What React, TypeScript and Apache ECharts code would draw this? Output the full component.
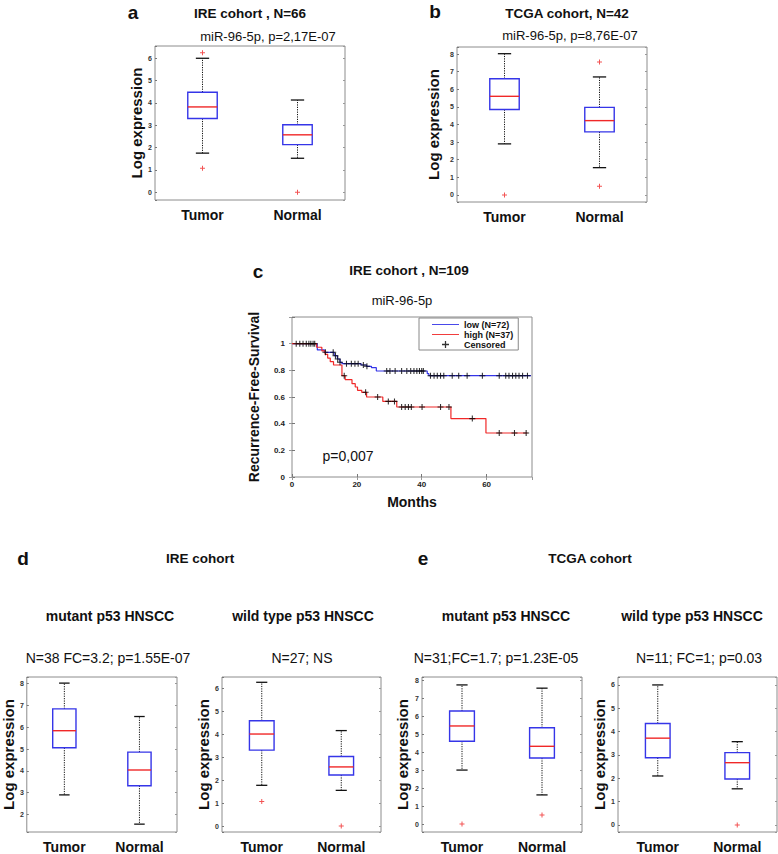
import React, { useEffect, useRef } from 'react';
import * as echarts from 'echarts';

const FONT = '"Liberation Sans", Arial, Helvetica, sans-serif';

const BOX_CATEGORIES = ['Tumor', 'Normal'];

// box values: [low whisker, Q1, median, Q3, high whisker]
const aTumor = [1.75, 3.3, 3.82, 4.48, 6.0];
const aNormal = [1.52, 2.13, 2.57, 3.02, 4.13];
const aOutTumor = [6.25, 1.07];
const aOutNormal = [0];

const bTumor = [2.9, 4.85, 5.6, 6.6, 8.02];
const bNormal = [1.55, 3.58, 4.22, 4.97, 6.7];
const bOutTumor = [0];
const bOutNormal = [7.55, 0.5];

const dMutTumor = [2.9, 5.06, 5.84, 6.84, 8.02];
const dMutNormal = [1.56, 3.32, 4.04, 4.86, 6.49];
const dMutOutTumor: number[] = [];
const dMutOutNormal: number[] = [];

const dWtTumor = [1.77, 3.3, 4.0, 4.58, 6.25];
const dWtNormal = [1.55, 2.22, 2.57, 3.02, 4.15];
const dWtOutTumor = [1.07];
const dWtOutNormal = [0];

const eMutTumor = [3.0, 4.6, 5.45, 6.28, 7.73];
const eMutNormal = [1.62, 3.67, 4.32, 5.35, 7.55];
const eMutOutTumor = [0];
const eMutOutNormal = [0.5];

const eWtTumor = [2.1, 2.88, 3.72, 4.35, 6.0];
const eWtNormal = [1.55, 1.97, 2.67, 3.1, 3.57];
const eWtOutTumor: number[] = [];
const eWtOutNormal = [0];

// Kaplan-Meier: [month, survival after step]
const lowSteps = [
  [0, 1], [7.8, 0.953], [10, 0.935], [13, 0.91], [14, 0.885], [14.8, 0.86], [15.4, 0.85],
  [21.3, 0.84], [23, 0.83], [24.5, 0.82], [26, 0.795], [41.7, 0.775], [42.2, 0.76], [73.7, 0.76],
];
const highSteps = [
  [0, 1], [7.6, 0.973], [9.2, 0.946], [10.2, 0.92], [11, 0.892], [11.8, 0.865], [12.8, 0.84],
  [15.4, 0.76], [16.4, 0.73], [18.5, 0.70], [19.5, 0.675], [20.2, 0.65], [21.5, 0.635],
  [23, 0.60], [28, 0.567], [32.3, 0.525], [49, 0.438], [59.8, 0.33], [72.6, 0.33],
];
const lowCensored = [
  4.4, 5.2, 5.8, 6.5, 7.0, 10.3, 12.7, 13.4, 14.1, 14.8, 16.8, 18.3, 19.4, 20.4, 22.0, 23.1,
  29.2, 30.2, 31.8, 33.8, 35.4, 36.6, 37.6, 38.5, 39.3, 40, 40.5, 42.7, 43.8, 44.8, 45.8, 46.8,
  49.4, 51.4, 54, 58.7, 63.9, 65.9, 66.9, 68, 69, 70, 71.1, 72.6,
];
const highCensored = [1.3, 2.4, 3.4, 16.1, 22.7, 26.4, 29.7, 31.6, 33.8, 34.9, 35.9, 36.8, 40.1, 45.8, 48.4, 55.6, 63.9, 68.6, 72.2];

const Y_TICK_FORMAT = (v: number) => {
  const r = Math.round(v * 1000) / 1000;
  return Number.isInteger(r) ? String(r) : '';
};

const PLUS_THICK = 'path://M4,0H6V4H10V6H6V10H4V6H0V4H4Z';
const PLUS_THIN = 'path://M4.1,0H5.9V4.1H10V5.9H5.9V10H4.1V5.9H0V4.1H4.1Z';
const LINE_ICON = 'path://M0,4.5H30V5.5H0Z';

const BLUE = '#3535e8';
const RED = '#f02828';
const FRAME = '#8c8c8c';

function survivalAt(steps: number[][], t: number) {
  let s = steps[0][1];
  for (const p of steps) {
    if (p[0] <= t) s = p[1];
  }
  return s;
}

const renderBox = (_params: any, api: any) => {
  const c = api.value(0);
  const low = api.coord([c, api.value(1)]);
  const q1 = api.coord([c, api.value(2)]);
  const med = api.coord([c, api.value(3)]);
  const q3 = api.coord([c, api.value(4)]);
  const high = api.coord([c, api.value(5)]);
  const band = api.size([1, 0])[0];
  const hw = band * 0.155;
  const cw = band * 0.07;
  const x = low[0];
  const dotted = { stroke: '#111', lineWidth: 1, lineDash: [1.2, 1.2] };
  const cap = { stroke: '#111', lineWidth: 1.3 };
  return {
    type: 'group',
    children: [
      { type: 'line', shape: { x1: x, y1: q3[1], x2: x, y2: high[1] }, style: dotted },
      { type: 'line', shape: { x1: x, y1: q1[1], x2: x, y2: low[1] }, style: dotted },
      { type: 'line', shape: { x1: x - cw, y1: high[1], x2: x + cw, y2: high[1] }, style: cap },
      { type: 'line', shape: { x1: x - cw, y1: low[1], x2: x + cw, y2: low[1] }, style: cap },
      {
        type: 'rect',
        shape: { x: x - hw, y: q3[1], width: 2 * hw, height: q1[1] - q3[1] },
        style: { fill: 'none', stroke: BLUE, lineWidth: 1.4 },
      },
      { type: 'line', shape: { x1: x - hw, y1: med[1], x2: x + hw, y2: med[1] }, style: { stroke: RED, lineWidth: 1.4 } },
    ],
  };
};

const BOX_PANELS = [
  { tumor: aTumor, normal: aNormal, outT: aOutTumor, outN: aOutNormal, left: 155, top: 46, width: 190, height: 154, min: -0.35, max: 6.55, gap: 10 },
  { tumor: bTumor, normal: bNormal, outT: bOutTumor, outN: bOutNormal, left: 457, top: 47, width: 190, height: 155, min: -0.4, max: 8.4, gap: 16 },
  { tumor: dMutTumor, normal: dMutNormal, outT: dMutOutTumor, outN: dMutOutNormal, left: 26, top: 677, width: 151, height: 156, min: 1.2, max: 8.3, gap: 8 },
  { tumor: dWtTumor, normal: dWtNormal, outT: dWtOutTumor, outN: dWtOutNormal, left: 222, top: 677, width: 159, height: 155, min: -0.26, max: 6.48, gap: 7 },
  { tumor: eMutTumor, normal: eMutNormal, outT: eMutOutTumor, outN: eMutOutNormal, left: 422, top: 677, width: 160, height: 155, min: -0.44, max: 8.17, gap: 12 },
  { tumor: eWtTumor, normal: eWtNormal, outT: eWtOutTumor, outN: eWtOutNormal, left: 618, top: 677, width: 159, height: 156, min: -0.3, max: 6.34, gap: 8 },
];

type T = { text: string; x: number; y: number; size: number; bold?: boolean };
const TEXTS: T[] = [
  { text: 'a', x: 133, y: 12, size: 19, bold: true },
  { text: 'IRE cohort , N=66', x: 250, y: 13, size: 13.5, bold: true },
  { text: 'miR-96-5p, p=2,17E-07', x: 268, y: 36, size: 13 },
  { text: 'b', x: 435, y: 11, size: 19, bold: true },
  { text: 'TCGA cohort, N=42', x: 567, y: 13, size: 13.5, bold: true },
  { text: 'miR-96-5p, p=8,76E-07', x: 570, y: 35, size: 13 },
  { text: 'c', x: 258, y: 271, size: 19, bold: true },
  { text: 'IRE cohort , N=109', x: 409, y: 270, size: 13.5, bold: true },
  { text: 'miR-96-5p', x: 402, y: 300, size: 13 },
  { text: 'p=0,007', x: 348, y: 456, size: 14 },
  { text: 'd', x: 23, y: 558, size: 19, bold: true },
  { text: 'IRE cohort', x: 200, y: 558, size: 13.5, bold: true },
  { text: 'mutant p53 HNSCC', x: 110, y: 616, size: 14, bold: true },
  { text: 'N=38 FC=3.2; p=1.55E-07', x: 108, y: 658, size: 14 },
  { text: 'wild type p53 HNSCC', x: 303, y: 616, size: 14, bold: true },
  { text: 'N=27; NS', x: 302, y: 658, size: 14 },
  { text: 'e', x: 423, y: 558, size: 19, bold: true },
  { text: 'TCGA cohort', x: 590, y: 558, size: 13.5, bold: true },
  { text: 'mutant p53 HNSCC', x: 506, y: 616, size: 14, bold: true },
  { text: 'N=31;FC=1.7; p=1.23E-05', x: 496, y: 658, size: 14 },
  { text: 'wild type p53 HNSCC', x: 692, y: 616, size: 14, bold: true },
  { text: 'N=11; FC=1; p=0.03', x: 699, y: 658, size: 14 },
];

export default function App() {
  const ref = useRef<HTMLDivElement>(null);
  useEffect(() => {
    if (!ref.current) return;
    const chart = echarts.init(ref.current, undefined, { renderer: 'svg' });
    const grids: any[] = [];
    const xAxes: any[] = [];
    const yAxes: any[] = [];
    const series: any[] = [];

    BOX_PANELS.forEach((p, i) => {
      grids.push({ left: p.left, top: p.top, width: p.width, height: p.height, show: true, borderColor: FRAME, borderWidth: 1 });
      const xi = xAxes.length;
      xAxes.push({
        type: 'category', gridIndex: i, data: BOX_CATEGORIES,
        axisLine: { show: false }, axisTick: { show: false },
        axisLabel: { fontFamily: FONT, fontSize: 14, fontWeight: 'bold', color: '#111', margin: 8 },
      });
      const yi = yAxes.length;
      yAxes.push({
        type: 'value', gridIndex: i, min: p.min, max: p.max, splitNumber: 10, minInterval: 1, maxInterval: 1,
        splitLine: { show: false }, axisLine: { show: false },
        axisTick: { show: true, inside: true, length: 2, lineStyle: { color: '#777' } },
        axisLabel: { fontFamily: FONT, fontSize: 7, fontWeight: 'bold', color: '#333', margin: 3, formatter: Y_TICK_FORMAT },
        name: 'Log expression', nameLocation: 'middle', nameGap: p.gap, nameRotate: 90,
        nameTextStyle: { fontFamily: FONT, fontSize: 15, fontWeight: 'bold', color: '#111' },
      });
      yAxes.push({
        type: 'value', gridIndex: i, position: 'right', min: p.min, max: p.max, splitNumber: 10, minInterval: 1, maxInterval: 1,
        splitLine: { show: false }, axisLine: { show: false }, axisLabel: { show: false },
        axisTick: { show: true, inside: true, length: 2, lineStyle: { color: '#999' } },
      });
      series.push({
        type: 'custom', xAxisIndex: xi, yAxisIndex: yi, renderItem: renderBox,
        encode: { x: 0, y: [1, 2, 3, 4, 5] },
        data: [[0, ...p.tumor], [1, ...p.normal]],
        silent: true,
      });
      const outliers = [...p.outT.map((v) => [0, v]), ...p.outN.map((v) => [1, v])];
      if (outliers.length) {
        series.push({
          type: 'scatter', xAxisIndex: xi, yAxisIndex: yi, data: outliers,
          symbol: PLUS_THICK, symbolSize: 5, itemStyle: { color: RED }, silent: true,
        });
      }
    });

    // KM panel
    const gi = grids.length;
    grids.push({ left: 292, top: 317, width: 240, height: 160, show: true, borderColor: FRAME, borderWidth: 1 });
    const kx = xAxes.length;
    xAxes.push({
      type: 'value', gridIndex: gi, min: 0, max: 74, interval: 20,
      splitLine: { show: false }, axisLine: { show: false },
      axisTick: { show: true, inside: true, length: 3, lineStyle: { color: '#777' } },
      axisLabel: { fontFamily: FONT, fontSize: 8, fontWeight: 'bold', color: '#222', margin: 3, showMaxLabel: false },
      name: 'Months', nameLocation: 'middle', nameGap: 18,
      nameTextStyle: { fontFamily: FONT, fontSize: 14, fontWeight: 'bold', color: '#111' },
    });
    xAxes.push({
      type: 'value', gridIndex: gi, position: 'top', min: 0, max: 74, interval: 20,
      splitLine: { show: false }, axisLine: { show: false }, axisLabel: { show: false },
      axisTick: { show: true, inside: true, length: 3, lineStyle: { color: '#999' } },
    });
    const ky = yAxes.length;
    yAxes.push({
      type: 'value', gridIndex: gi, min: 0, max: 1.2, interval: 0.2,
      splitLine: { show: false }, axisLine: { show: false },
      axisTick: { show: true, inside: true, length: 3, lineStyle: { color: '#777' } },
      axisLabel: {
        fontFamily: FONT, fontSize: 8, fontWeight: 'bold', color: '#222', margin: 7,
        formatter: (v: number) => (v > 1.1 ? '' : v === 0 ? '0' : v === 1 ? '1' : v.toFixed(1)),
      },
      name: 'Recurrence-Free-Survival', nameLocation: 'middle', nameGap: 31, nameRotate: 90,
      nameTextStyle: { fontFamily: FONT, fontSize: 14, fontWeight: 'bold', color: '#111' },
    });
    yAxes.push({
      type: 'value', gridIndex: gi, position: 'right', min: 0, max: 1.2, interval: 0.2,
      splitLine: { show: false }, axisLine: { show: false }, axisLabel: { show: false },
      axisTick: { show: true, inside: true, length: 3, lineStyle: { color: '#999' } },
    });
    series.push({
      name: 'low (N=72)', type: 'line', step: 'end', xAxisIndex: kx, yAxisIndex: ky,
      data: lowSteps, showSymbol: false, symbol: 'none', lineStyle: { color: BLUE, width: 1.2 }, itemStyle: { color: BLUE },
    });
    series.push({
      name: 'high (N=37)', type: 'line', step: 'end', xAxisIndex: kx, yAxisIndex: ky,
      data: highSteps, showSymbol: false, symbol: 'none', lineStyle: { color: RED, width: 1.2 }, itemStyle: { color: RED },
    });
    series.push({
      name: 'Censored', type: 'scatter', xAxisIndex: kx, yAxisIndex: ky,
      data: lowCensored.map((t) => [t, survivalAt(lowSteps, t)]),
      symbol: PLUS_THIN, symbolSize: 6, itemStyle: { color: '#000' }, z: 3,
    });
    series.push({
      name: 'Censored', type: 'scatter', xAxisIndex: kx, yAxisIndex: ky,
      data: highCensored.map((t) => [t, survivalAt(highSteps, t)]),
      symbol: PLUS_THIN, symbolSize: 6, itemStyle: { color: '#000' }, z: 3,
    });

    const graphic = TEXTS.map((t) => ({
      type: 'text', x: t.x, y: t.y, silent: true,
      style: {
        text: t.text, align: 'center', verticalAlign: 'middle', fill: '#111',
        fontFamily: FONT, fontSize: t.size, fontWeight: t.bold ? 'bold' : 'normal',
      },
    }));

    chart.setOption({
      animation: false,
      backgroundColor: '#fff',
      grid: grids,
      xAxis: xAxes,
      yAxis: yAxes,
      series,
      legend: {
        data: [
          { name: 'low (N=72)', icon: LINE_ICON },
          { name: 'high (N=37)', icon: LINE_ICON },
          { name: 'Censored', icon: PLUS_THIN },
        ],
        orient: 'vertical', left: 419, top: 318, itemWidth: 27, itemHeight: 7, itemGap: 1,
        padding: [2, 5, 1, 13], borderColor: '#888', borderWidth: 1, backgroundColor: '#fff',
        textStyle: { fontFamily: FONT, fontSize: 9, lineHeight: 9, fontWeight: 'bold', color: '#111' },
        selectedMode: false,
      },
      graphic,
    });
    return () => chart.dispose();
  }, []);
  return <div ref={ref} style={{ position: 'absolute', left: 0, top: 0, width: 778, height: 854 }} />;
}
